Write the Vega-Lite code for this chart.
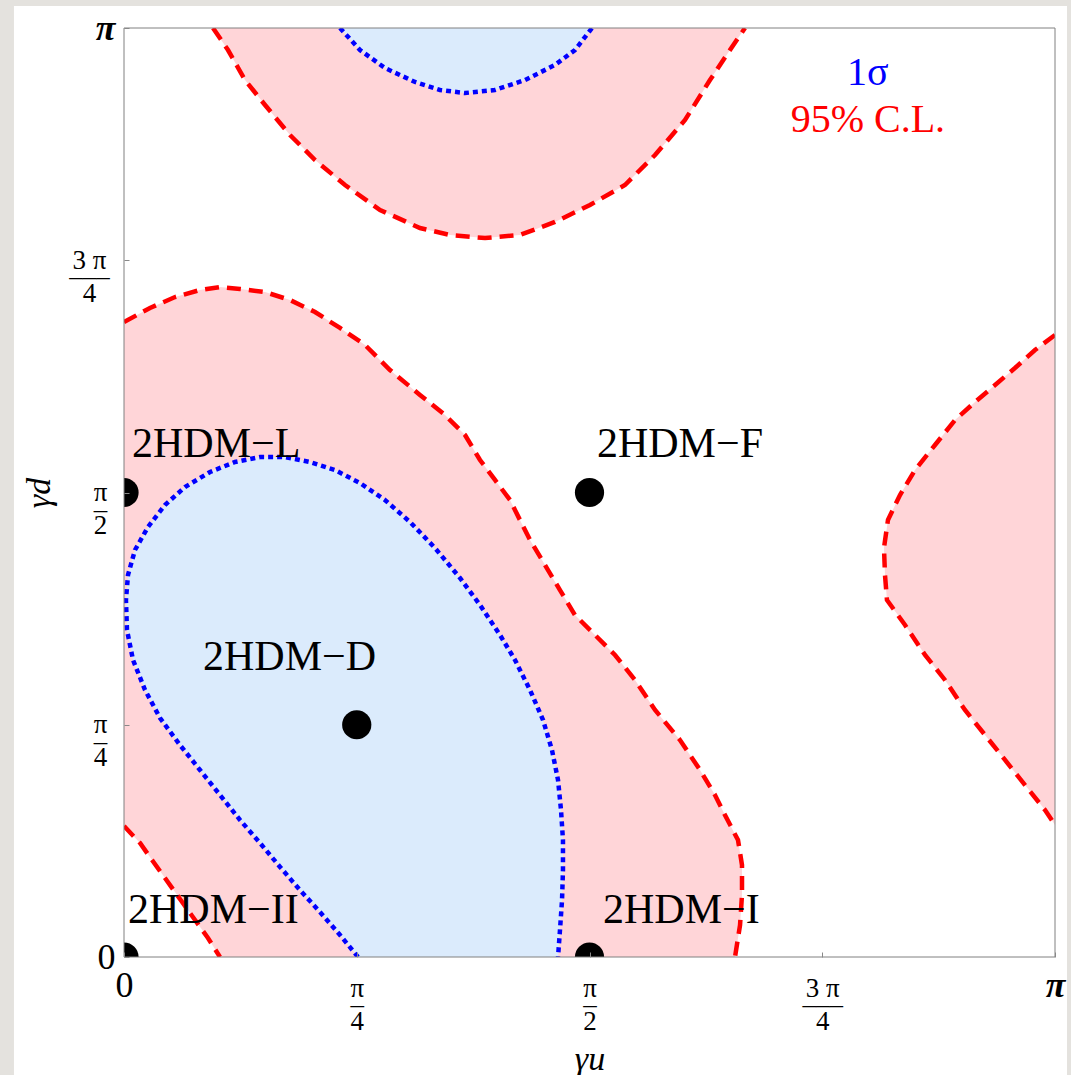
{
"$schema":"https://vega.github.io/schema/vega-lite/v6.json",
"width":931,"height":929,
"autosize":{"type":"none"},
"padding":{"left":124,"top":28,"right":16,"bottom":118},
"background":"#e4e2de",
"datasets":{
"contours":[
{"c":"topRed","k":"red","p":"topRed","i":0,"o":0,"x":0.0956,"y":1.0},
{"c":"topRed","k":"red","p":"topRed","i":1,"o":1,"x":0.1117,"y":0.9763},
{"c":"topRed","k":"red","p":"topRed","i":2,"o":2,"x":0.1300,"y":0.9440},
{"c":"topRed","k":"red","p":"topRed","i":3,"o":3,"x":0.1515,"y":0.9171},
{"c":"topRed","k":"red","p":"topRed","i":4,"o":4,"x":0.1783,"y":0.8848},
{"c":"topRed","k":"red","p":"topRed","i":5,"o":5,"x":0.2052,"y":0.8579},
{"c":"topRed","k":"red","p":"topRed","i":6,"o":6,"x":0.2374,"y":0.8310},
{"c":"topRed","k":"red","p":"topRed","i":7,"o":7,"x":0.2750,"y":0.8041},
{"c":"topRed","k":"red","p":"topRed","i":8,"o":8,"x":0.3179,"y":0.7847},
{"c":"topRed","k":"red","p":"topRed","i":9,"o":9,"x":0.3502,"y":0.7772},
{"c":"topRed","k":"red","p":"topRed","i":10,"o":10,"x":0.3878,"y":0.7739},
{"c":"topRed","k":"red","p":"topRed","i":11,"o":11,"x":0.4253,"y":0.7772},
{"c":"topRed","k":"red","p":"topRed","i":12,"o":12,"x":0.4629,"y":0.7912},
{"c":"topRed","k":"red","p":"topRed","i":13,"o":13,"x":0.5005,"y":0.8095},
{"c":"topRed","k":"red","p":"topRed","i":14,"o":14,"x":0.5381,"y":0.8310},
{"c":"topRed","k":"red","p":"topRed","i":15,"o":15,"x":0.5704,"y":0.8633},
{"c":"topRed","k":"red","p":"topRed","i":16,"o":16,"x":0.6026,"y":0.9010},
{"c":"topRed","k":"red","p":"topRed","i":17,"o":17,"x":0.6294,"y":0.9440},
{"c":"topRed","k":"red","p":"topRed","i":18,"o":18,"x":0.6509,"y":0.9763},
{"c":"topRed","k":"red","p":"topRed","i":19,"o":19,"x":0.6670,"y":1.0},
{"c":"mainRed","k":"red","p":"mainRed","i":0,"o":0,"x":0,"y":0.6835},
{"c":"mainRed","k":"red","p":"mainRed","i":1,"o":1,"x":0.0279,"y":0.6986},
{"c":"mainRed","k":"red","p":"mainRed","i":2,"o":2,"x":0.0548,"y":0.7104},
{"c":"mainRed","k":"red","p":"mainRed","i":3,"o":3,"x":0.0816,"y":0.7180},
{"c":"mainRed","k":"red","p":"mainRed","i":4,"o":4,"x":0.1031,"y":0.7212},
{"c":"mainRed","k":"red","p":"mainRed","i":5,"o":5,"x":0.1246,"y":0.7191},
{"c":"mainRed","k":"red","p":"mainRed","i":6,"o":6,"x":0.1515,"y":0.7158},
{"c":"mainRed","k":"red","p":"mainRed","i":7,"o":7,"x":0.1783,"y":0.7072},
{"c":"mainRed","k":"red","p":"mainRed","i":8,"o":8,"x":0.2052,"y":0.6943},
{"c":"mainRed","k":"red","p":"mainRed","i":9,"o":9,"x":0.2320,"y":0.6771},
{"c":"mainRed","k":"red","p":"mainRed","i":10,"o":10,"x":0.2589,"y":0.6588},
{"c":"mainRed","k":"red","p":"mainRed","i":11,"o":11,"x":0.2857,"y":0.6319},
{"c":"mainRed","k":"red","p":"mainRed","i":12,"o":12,"x":0.3179,"y":0.6050},
{"c":"mainRed","k":"red","p":"mainRed","i":13,"o":13,"x":0.3448,"y":0.5834},
{"c":"mainRed","k":"red","p":"mainRed","i":14,"o":14,"x":0.3663,"y":0.5619},
{"c":"mainRed","k":"red","p":"mainRed","i":15,"o":15,"x":0.3824,"y":0.5350},
{"c":"mainRed","k":"red","p":"mainRed","i":16,"o":16,"x":0.3985,"y":0.5135},
{"c":"mainRed","k":"red","p":"mainRed","i":17,"o":17,"x":0.4146,"y":0.4919},
{"c":"mainRed","k":"red","p":"mainRed","i":18,"o":18,"x":0.4253,"y":0.4704},
{"c":"mainRed","k":"red","p":"mainRed","i":19,"o":19,"x":0.4361,"y":0.4489},
{"c":"mainRed","k":"red","p":"mainRed","i":20,"o":20,"x":0.4522,"y":0.4220},
{"c":"mainRed","k":"red","p":"mainRed","i":21,"o":21,"x":0.4683,"y":0.3950},
{"c":"mainRed","k":"red","p":"mainRed","i":22,"o":22,"x":0.4844,"y":0.3681},
{"c":"mainRed","k":"red","p":"mainRed","i":23,"o":23,"x":0.5059,"y":0.3466},
{"c":"mainRed","k":"red","p":"mainRed","i":24,"o":24,"x":0.5274,"y":0.3251},
{"c":"mainRed","k":"red","p":"mainRed","i":25,"o":25,"x":0.5489,"y":0.2982},
{"c":"mainRed","k":"red","p":"mainRed","i":26,"o":26,"x":0.5704,"y":0.2659},
{"c":"mainRed","k":"red","p":"mainRed","i":27,"o":27,"x":0.5972,"y":0.2336},
{"c":"mainRed","k":"red","p":"mainRed","i":28,"o":28,"x":0.6187,"y":0.2013},
{"c":"mainRed","k":"red","p":"mainRed","i":29,"o":29,"x":0.6348,"y":0.1744},
{"c":"mainRed","k":"red","p":"mainRed","i":30,"o":30,"x":0.6455,"y":0.1529},
{"c":"mainRed","k":"red","p":"mainRed","i":31,"o":31,"x":0.6595,"y":0.1259},
{"c":"mainRed","k":"red","p":"mainRed","i":32,"o":32,"x":0.6638,"y":0.0990},
{"c":"mainRed","k":"red","p":"mainRed","i":33,"o":33,"x":0.6638,"y":0.0667},
{"c":"mainRed","k":"red","p":"mainRed","i":34,"o":34,"x":0.6617,"y":0.0344},
{"c":"mainRed","k":"red","p":"mainRed","i":35,"o":35,"x":0.6563,"y":0},
{"c":"cornerRed","k":"red","p":"mainRed","i":0,"o":100,"x":0,"y":0.1410},
{"c":"cornerRed","k":"red","p":"mainRed","i":1,"o":99,"x":0.0172,"y":0.1227},
{"c":"cornerRed","k":"red","p":"mainRed","i":2,"o":98,"x":0.0301,"y":0.1044},
{"c":"cornerRed","k":"red","p":"mainRed","i":3,"o":97,"x":0.0440,"y":0.0850},
{"c":"cornerRed","k":"red","p":"mainRed","i":4,"o":96,"x":0.0601,"y":0.0624},
{"c":"cornerRed","k":"red","p":"mainRed","i":5,"o":95,"x":0.0763,"y":0.0398},
{"c":"cornerRed","k":"red","p":"mainRed","i":6,"o":94,"x":0.0902,"y":0.0205},
{"c":"cornerRed","k":"red","p":"mainRed","i":7,"o":93,"x":0.1031,"y":0},
{"c":"rightRed","k":"red","p":"rightRed","i":0,"o":0,"x":1.0,"y":0.6695},
{"c":"rightRed","k":"red","p":"rightRed","i":1,"o":1,"x":0.9785,"y":0.6534},
{"c":"rightRed","k":"red","p":"rightRed","i":2,"o":2,"x":0.9570,"y":0.6340},
{"c":"rightRed","k":"red","p":"rightRed","i":3,"o":3,"x":0.9356,"y":0.6157},
{"c":"rightRed","k":"red","p":"rightRed","i":4,"o":4,"x":0.9141,"y":0.5974},
{"c":"rightRed","k":"red","p":"rightRed","i":5,"o":5,"x":0.8926,"y":0.5780},
{"c":"rightRed","k":"red","p":"rightRed","i":6,"o":6,"x":0.8711,"y":0.5511},
{"c":"rightRed","k":"red","p":"rightRed","i":7,"o":7,"x":0.8496,"y":0.5242},
{"c":"rightRed","k":"red","p":"rightRed","i":8,"o":8,"x":0.8335,"y":0.4973},
{"c":"rightRed","k":"red","p":"rightRed","i":9,"o":9,"x":0.8206,"y":0.4704},
{"c":"rightRed","k":"red","p":"rightRed","i":10,"o":10,"x":0.8163,"y":0.4403},
{"c":"rightRed","k":"red","p":"rightRed","i":11,"o":11,"x":0.8174,"y":0.4112},
{"c":"rightRed","k":"red","p":"rightRed","i":12,"o":12,"x":0.8195,"y":0.3843},
{"c":"rightRed","k":"red","p":"rightRed","i":13,"o":13,"x":0.8389,"y":0.3574},
{"c":"rightRed","k":"red","p":"rightRed","i":14,"o":14,"x":0.8604,"y":0.3251},
{"c":"rightRed","k":"red","p":"rightRed","i":15,"o":15,"x":0.8818,"y":0.2982},
{"c":"rightRed","k":"red","p":"rightRed","i":16,"o":16,"x":0.9033,"y":0.2659},
{"c":"rightRed","k":"red","p":"rightRed","i":17,"o":17,"x":0.9248,"y":0.2390},
{"c":"rightRed","k":"red","p":"rightRed","i":18,"o":18,"x":0.9463,"y":0.2121},
{"c":"rightRed","k":"red","p":"rightRed","i":19,"o":19,"x":0.9678,"y":0.1851},
{"c":"rightRed","k":"red","p":"rightRed","i":20,"o":20,"x":0.9893,"y":0.1582},
{"c":"rightRed","k":"red","p":"rightRed","i":21,"o":21,"x":1.0,"y":0.1421},
{"c":"topBlue","k":"blue","p":"topBlue","i":0,"o":0,"x":0.2320,"y":1.0},
{"c":"topBlue","k":"blue","p":"topBlue","i":1,"o":1,"x":0.2535,"y":0.9763},
{"c":"topBlue","k":"blue","p":"topBlue","i":2,"o":2,"x":0.2803,"y":0.9569},
{"c":"topBlue","k":"blue","p":"topBlue","i":3,"o":3,"x":0.3126,"y":0.9419},
{"c":"topBlue","k":"blue","p":"topBlue","i":4,"o":4,"x":0.3394,"y":0.9333},
{"c":"topBlue","k":"blue","p":"topBlue","i":5,"o":5,"x":0.3663,"y":0.9300},
{"c":"topBlue","k":"blue","p":"topBlue","i":6,"o":6,"x":0.3985,"y":0.9333},
{"c":"topBlue","k":"blue","p":"topBlue","i":7,"o":7,"x":0.4307,"y":0.9440},
{"c":"topBlue","k":"blue","p":"topBlue","i":8,"o":8,"x":0.4629,"y":0.9602},
{"c":"topBlue","k":"blue","p":"topBlue","i":9,"o":9,"x":0.4844,"y":0.9763},
{"c":"topBlue","k":"blue","p":"topBlue","i":10,"o":10,"x":0.5027,"y":1.0},
{"c":"mainBlue","k":"blue","p":"mainBlue","i":0,"o":0,"x":0.2513,"y":0},
{"c":"mainBlue","k":"blue","p":"mainBlue","i":1,"o":1,"x":0.2320,"y":0.0237},
{"c":"mainBlue","k":"blue","p":"mainBlue","i":2,"o":2,"x":0.2105,"y":0.0484},
{"c":"mainBlue","k":"blue","p":"mainBlue","i":3,"o":3,"x":0.1890,"y":0.0721},
{"c":"mainBlue","k":"blue","p":"mainBlue","i":4,"o":4,"x":0.1676,"y":0.0969},
{"c":"mainBlue","k":"blue","p":"mainBlue","i":5,"o":5,"x":0.1461,"y":0.1227},
{"c":"mainBlue","k":"blue","p":"mainBlue","i":6,"o":6,"x":0.1246,"y":0.1475},
{"c":"mainBlue","k":"blue","p":"mainBlue","i":7,"o":7,"x":0.1031,"y":0.1744},
{"c":"mainBlue","k":"blue","p":"mainBlue","i":8,"o":8,"x":0.0816,"y":0.2013},
{"c":"mainBlue","k":"blue","p":"mainBlue","i":9,"o":9,"x":0.0601,"y":0.2282},
{"c":"mainBlue","k":"blue","p":"mainBlue","i":10,"o":10,"x":0.0387,"y":0.2573},
{"c":"mainBlue","k":"blue","p":"mainBlue","i":11,"o":11,"x":0.0226,"y":0.2874},
{"c":"mainBlue","k":"blue","p":"mainBlue","i":12,"o":12,"x":0.0097,"y":0.3197},
{"c":"mainBlue","k":"blue","p":"mainBlue","i":13,"o":13,"x":0.0032,"y":0.3520},
{"c":"mainBlue","k":"blue","p":"mainBlue","i":14,"o":14,"x":0.0021,"y":0.3843},
{"c":"mainBlue","k":"blue","p":"mainBlue","i":15,"o":15,"x":0.0043,"y":0.4112},
{"c":"mainBlue","k":"blue","p":"mainBlue","i":16,"o":16,"x":0.0118,"y":0.4381},
{"c":"mainBlue","k":"blue","p":"mainBlue","i":17,"o":17,"x":0.0258,"y":0.4629},
{"c":"mainBlue","k":"blue","p":"mainBlue","i":18,"o":18,"x":0.0440,"y":0.4865},
{"c":"mainBlue","k":"blue","p":"mainBlue","i":19,"o":19,"x":0.0655,"y":0.5059},
{"c":"mainBlue","k":"blue","p":"mainBlue","i":20,"o":20,"x":0.0924,"y":0.5221},
{"c":"mainBlue","k":"blue","p":"mainBlue","i":21,"o":21,"x":0.1192,"y":0.5328},
{"c":"mainBlue","k":"blue","p":"mainBlue","i":22,"o":22,"x":0.1461,"y":0.5382},
{"c":"mainBlue","k":"blue","p":"mainBlue","i":23,"o":23,"x":0.1729,"y":0.5382},
{"c":"mainBlue","k":"blue","p":"mainBlue","i":24,"o":24,"x":0.1998,"y":0.5328},
{"c":"mainBlue","k":"blue","p":"mainBlue","i":25,"o":25,"x":0.2266,"y":0.5242},
{"c":"mainBlue","k":"blue","p":"mainBlue","i":26,"o":26,"x":0.2535,"y":0.5102},
{"c":"mainBlue","k":"blue","p":"mainBlue","i":27,"o":27,"x":0.2803,"y":0.4919},
{"c":"mainBlue","k":"blue","p":"mainBlue","i":28,"o":28,"x":0.3072,"y":0.4683},
{"c":"mainBlue","k":"blue","p":"mainBlue","i":29,"o":29,"x":0.3340,"y":0.4403},
{"c":"mainBlue","k":"blue","p":"mainBlue","i":30,"o":30,"x":0.3609,"y":0.4080},
{"c":"mainBlue","k":"blue","p":"mainBlue","i":31,"o":31,"x":0.3824,"y":0.3789},
{"c":"mainBlue","k":"blue","p":"mainBlue","i":32,"o":32,"x":0.4039,"y":0.3466},
{"c":"mainBlue","k":"blue","p":"mainBlue","i":33,"o":33,"x":0.4200,"y":0.3197},
{"c":"mainBlue","k":"blue","p":"mainBlue","i":34,"o":34,"x":0.4361,"y":0.2874},
{"c":"mainBlue","k":"blue","p":"mainBlue","i":35,"o":35,"x":0.4501,"y":0.2551},
{"c":"mainBlue","k":"blue","p":"mainBlue","i":36,"o":36,"x":0.4597,"y":0.2228},
{"c":"mainBlue","k":"blue","p":"mainBlue","i":37,"o":37,"x":0.4662,"y":0.1905},
{"c":"mainBlue","k":"blue","p":"mainBlue","i":38,"o":38,"x":0.4694,"y":0.1582},
{"c":"mainBlue","k":"blue","p":"mainBlue","i":39,"o":39,"x":0.4715,"y":0.1259},
{"c":"mainBlue","k":"blue","p":"mainBlue","i":40,"o":40,"x":0.4715,"y":0.0936},
{"c":"mainBlue","k":"blue","p":"mainBlue","i":41,"o":41,"x":0.4705,"y":0.0614},
{"c":"mainBlue","k":"blue","p":"mainBlue","i":42,"o":42,"x":0.4683,"y":0.0291},
{"c":"mainBlue","k":"blue","p":"mainBlue","i":43,"o":43,"x":0.4662,"y":0}
],
"points":[
{"model":"2HDM−L","x":0,"y":0.5},
{"model":"2HDM−F","x":0.5,"y":0.5},
{"model":"2HDM−D","x":0.25,"y":0.25},
{"model":"2HDM−II","x":0,"y":0},
{"model":"2HDM−I","x":0.5,"y":0}
],
"labels":[
{"label":"2HDM−L","x":0.0086,"y":0.538},
{"label":"2HDM−F","x":0.508,"y":0.538},
{"label":"2HDM−D","x":0.0849,"y":0.309},
{"label":"2HDM−II","x":0.0043,"y":0.0366},
{"label":"2HDM−I","x":0.5145,"y":0.0366}
],
"legend":[
{"label":"1σ","k":"blue","x":0.799,"y":0.9387},
{"label":"95% C.L.","k":"red","x":0.799,"y":0.888}
]
},
"encoding":{
"x":{"field":"x","type":"quantitative","scale":{"domain":[0,1],"nice":false,"zero":false},
 "axis":{"values":[0,0.25,0.5,0.75,1],
  "labelExpr":"datum.value == 0 ? '0' : datum.value == 1 ? 'π' : datum.value == 0.25 ? ['π','–','4'] : datum.value == 0.5 ? ['π','–','2'] : ['3 π','–––','4']",
  "title":"γu","labelFlush":false,"labelOverlap":false,"labelBound":false,
  "labelBaseline":"middle","labelAlign":"center","labelLineHeight":16.5,
  "labelPadding":{"condition":{"test":"datum.value == 0 || datum.value == 1","value":33},"value":36},
  "labelFontSize":{"condition":{"test":"datum.value == 0 || datum.value == 1","value":36},"value":27},
  "labelFontStyle":{"condition":{"test":"datum.value == 1","value":"italic"},"value":"normal"},
  "labelFontWeight":{"condition":{"test":"datum.value == 1","value":"bold"},"value":"normal"},
  "tickSize":-5,"tickColor":"#888888","domain":false,"grid":false,
  "titleFontSize":34,"titleFontStyle":"italic","titleFontWeight":"normal","titleBaseline":"alphabetic","titleY":112,"zindex":1}},
"y":{"field":"y","type":"quantitative","scale":{"domain":[0,1],"nice":false,"zero":false},
 "axis":{"values":[0,0.25,0.5,0.75,1],
  "labelExpr":"datum.value == 0 ? '0' : datum.value == 1 ? 'π' : datum.value == 0.25 ? ['π','–','4'] : datum.value == 0.5 ? ['π','–','2'] : ['3 π','–––','4']",
  "title":"γd","labelFlush":false,"labelOverlap":false,"labelBound":false,
  "labelBaseline":"middle","labelLineHeight":16.5,
  "labelAlign":{"condition":{"test":"datum.value == 0 || datum.value == 1","value":"right"},"value":"center"},
  "labelPadding":{"condition":[{"test":"datum.value == 0 || datum.value == 1","value":14},{"test":"datum.value == 0.75","value":40}],"value":29},
  "labelFontSize":{"condition":{"test":"datum.value == 0 || datum.value == 1","value":36},"value":27},
  "labelFontStyle":{"condition":{"test":"datum.value == 1","value":"italic"},"value":"normal"},
  "labelFontWeight":{"condition":{"test":"datum.value == 1","value":"bold"},"value":"normal"},
  "tickSize":-5,"tickColor":"#888888","domain":false,"grid":false,
  "titleFontSize":34,"titleFontStyle":"italic","titleFontWeight":"normal","titleBaseline":"alphabetic","titleX":-75,"zindex":1}}
},
"layer":[
{"data":{"values":[{"x":-0.1182,"x2":1.0129,"y":-0.127,"y2":1.0237}]},
 "mark":{"type":"rect","fill":"#ffffff","clip":false},
 "encoding":{"x2":{"field":"x2"},"y2":{"field":"y2"}}},
{"data":{"name":"contours"},"transform":[{"filter":"datum.k == 'red'"}],
 "mark":{"type":"line","interpolate":"linear-closed","fill":"#ffd5d8","stroke":"transparent","strokeWidth":0,"clip":true},
 "encoding":{"detail":{"field":"p"},"order":{"field":"o","type":"quantitative"}}},
{"data":{"name":"contours"},"transform":[{"filter":"datum.k == 'blue'"}],
 "mark":{"type":"line","interpolate":"linear-closed","fill":"#dbebfc","stroke":"transparent","strokeWidth":0,"clip":true},
 "encoding":{"detail":{"field":"p"},"order":{"field":"o","type":"quantitative"}}},
{"data":{"name":"contours"},"transform":[{"filter":"datum.k == 'red'"}],
 "mark":{"type":"line","stroke":"#ff0000","strokeWidth":4.5,"strokeDash":[14,8],"strokeCap":"butt","clip":true},
 "encoding":{"detail":{"field":"c"},"order":{"field":"i","type":"quantitative"}}},
{"data":{"name":"contours"},"transform":[{"filter":"datum.k == 'blue'"}],
 "mark":{"type":"line","stroke":"#0000ff","strokeWidth":4.5,"strokeDash":[5,4],"strokeCap":"butt","clip":true},
 "encoding":{"detail":{"field":"c"},"order":{"field":"i","type":"quantitative"}}},
{"data":{"name":"points"},
 "mark":{"type":"circle","size":855,"color":"#000000","opacity":1,"clip":true},
 "encoding":{"detail":{"field":"model"}}},
{"data":{"name":"labels"},
 "mark":{"type":"text","align":"left","baseline":"alphabetic","fontSize":42,"color":"#000000","clip":false},
 "encoding":{"text":{"field":"label"}}},
{"data":{"name":"legend"},
 "mark":{"type":"text","align":"center","baseline":"alphabetic","fontSize":40,"clip":false},
 "encoding":{"text":{"field":"label"},"color":{"field":"k","type":"nominal","scale":{"domain":["blue","red"],"range":["#0000ff","#ff0000"]},"legend":null}}},
{"data":{"values":[{"x":0,"x2":1,"y":0,"y2":1}]},
 "mark":{"type":"rect","fill":"#ffffff","fillOpacity":0,"stroke":"#808080","strokeWidth":1,"clip":false},
 "encoding":{"x2":{"field":"x2"},"y2":{"field":"y2"}}}
],
"config":{"view":{"stroke":null},"font":"Liberation Serif",
 "axis":{"labelColor":"#000000","titleColor":"#000000"}}
}
